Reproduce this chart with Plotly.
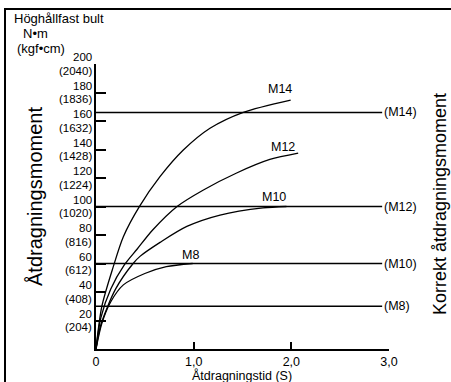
import plotly.graph_objects as go

# ---------------- data ----------------
ytick_nm = [20, 40, 60, 80, 100, 120, 140, 160, 180, 200]
ytick_kgf = ["(204)", "(408)", "(612)", "(816)", "(1020)", "(1224)", "(1428)", "(1632)", "(1836)", "(2040)"]
xtick_vals = [0, 1, 2, 3]
xtick_text = ["0", "1,0", "2,0", "3,0"]

m14_t = [0, 0.06, 0.177, 0.28, 0.444, 0.655, 0.894, 1.167, 1.508, 1.993]
m14_v = [0, 30, 57.8, 78.8, 99.9, 120.9, 139.6, 154.9, 166.1, 174.7]
m12_t = [0, 0.05, 0.15, 0.29, 0.42, 0.58, 0.83, 1.10, 1.44, 1.78, 2.07]
m12_v = [0, 22, 42, 59, 70, 83.5, 100, 111.6, 123.5, 133, 137.5]
m10_t = [0, 0.05, 0.20, 0.38, 0.45, 0.66, 0.93, 1.27, 1.71, 1.95]
m10_v = [0, 17, 42, 60, 65, 75, 86, 94, 99, 100]
m8_t = [0, 0.06, 0.15, 0.28, 0.50, 0.72, 0.99]
m8_v = [0, 18, 33, 45, 53, 57.8, 60]

curve_names = ["M14", "M12", "M10", "M8"]
curve_label_pos = [(1.88, 182.5), (1.91, 141.8), (1.82, 106.7), (0.97, 66)]

ref_names = ["(M14)", "(M12)", "(M10)", "(M8)"]
ref_values = [166, 100, 60, 30]
ref_end_t = 2.93

# ---------------- layout helpers ----------------
W, H = 451, 382
L, R, T, B = 96, 62, 64, 33
PW, PH = W - L - R, H - T - B

def px(x):
    return (x - L) / PW

def py(y):
    return (H - B - y) / PH

SANS = "Liberation Sans, Arial, sans-serif"

fig = go.Figure()

curves = [(m14_t, m14_v), (m12_t, m12_v), (m10_t, m10_v), (m8_t, m8_v)]
for (t, v), name in zip(curves, curve_names):
    fig.add_trace(go.Scatter(x=t, y=v, mode="lines", name=name,
                             line=dict(color="black", width=1.3, shape="spline", smoothing=0.8),
                             hoverinfo="skip"))

for val, name in zip(ref_values, ref_names):
    fig.add_trace(go.Scatter(x=[0, ref_end_t], y=[val, val], mode="lines", name=name,
                             line=dict(color="black", width=1.5), hoverinfo="skip"))

ann = []
for (lx, ly), name in zip(curve_label_pos, curve_names):
    ann.append(dict(x=lx, y=ly, xref="x", yref="y", text=name, showarrow=False,
                    font=dict(family=SANS, size=12.5, color="black"),
                    xanchor="center", yanchor="middle"))
for val, name in zip(ref_values, ref_names):
    ann.append(dict(x=ref_end_t, y=val, xref="x", yref="y", text=name, showarrow=False,
                    font=dict(family=SANS, size=12.5, color="black"),
                    xanchor="left", yanchor="middle", xshift=0))
for v, k in zip(ytick_nm, ytick_kgf):
    ann.append(dict(x=0, y=v, xref="x", yref="y", text=str(v), showarrow=False,
                    font=dict(family=SANS, size=11.5, color="black"), borderpad=0, borderwidth=0,
                    xanchor="right", yanchor="middle", xshift=-4, yshift=6.8))
    ann.append(dict(x=0, y=v, xref="x", yref="y", text=k, showarrow=False,
                    font=dict(family=SANS, size=11.5, color="black"), borderpad=0, borderwidth=0,
                    xanchor="right", yanchor="middle", xshift=-4, yshift=-6.8))

# texts at top-left
ann.append(dict(x=px(12), y=py(19), xref="paper", yref="paper", text="Höghållfast bult",
                showarrow=False, font=dict(family=SANS, size=13, color="black"),
                xanchor="left", yanchor="middle"))
ann.append(dict(x=px(21), y=py(34), xref="paper", yref="paper", text="N•m",
                showarrow=False, font=dict(family=SANS, size=13, color="black"),
                xanchor="left", yanchor="middle"))
ann.append(dict(x=px(15), y=py(48), xref="paper", yref="paper", text="(kgf•cm)",
                showarrow=False, font=dict(family=SANS, size=13, color="black"),
                xanchor="left", yanchor="middle"))
# axis titles
ann.append(dict(x=px(35), y=py(197), xref="paper", yref="paper", text="Åtdragningsmoment",
                showarrow=False, textangle=-90, font=dict(family=SANS, size=20, color="black"),
                xanchor="center", yanchor="middle"))
ann.append(dict(x=px(440), y=py(204), xref="paper", yref="paper", text="Korrekt åtdragningsmoment",
                showarrow=False, textangle=-90, font=dict(family=SANS, size=18, color="black"),
                xanchor="center", yanchor="middle"))
ann.append(dict(x=px(242), y=py(375), xref="paper", yref="paper", text="Åtdragningstid (S)",
                showarrow=False, font=dict(family=SANS, size=12.5, color="black"),
                xanchor="center", yanchor="middle"))

shapes = [dict(type="rect", xref="paper", yref="paper",
               x0=px(5), x1=px(453), y0=py(394), y1=py(9),
               line=dict(color="black", width=2), fillcolor="rgba(0,0,0,0)", layer="above")]

fig.update_layout(
    width=W, height=H,
    margin=dict(l=L, r=R, t=T, b=B, pad=0),
    paper_bgcolor="white", plot_bgcolor="white",
    showlegend=False,
    annotations=ann, shapes=shapes,
    xaxis=dict(range=[0, 3], showgrid=False, zeroline=False, showline=True,
               linecolor="black", linewidth=1.5, ticks="inside", ticklen=7,
               tickwidth=1.5, tickcolor="black",
               tickvals=xtick_vals, ticktext=xtick_text,
               tickfont=dict(family=SANS, size=12.5, color="black"), fixedrange=True),
    yaxis=dict(range=[0, 200], showgrid=False, zeroline=False, showline=True,
               linecolor="black", linewidth=2, ticks="inside", ticklen=10,
               tickwidth=1.5, tickcolor="black",
               tickvals=ytick_nm, showticklabels=False, fixedrange=True),
)

fig.write_html("out.html", config={"displayModeBar": False},
               post_script="document.body.style.margin='0';document.body.style.overflow='hidden';")
